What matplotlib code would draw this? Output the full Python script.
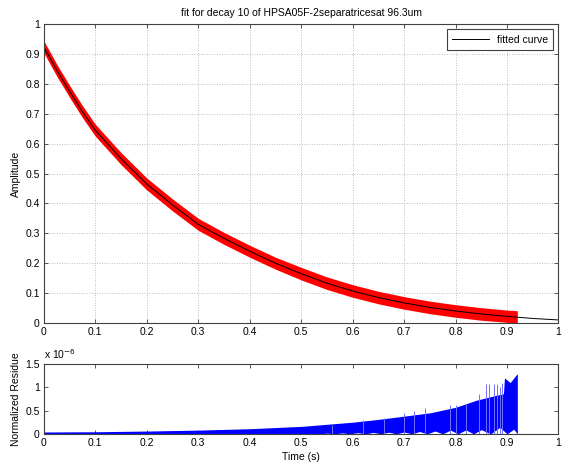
import matplotlib
matplotlib.use('Agg')
import matplotlib.pyplot as plt
import numpy as np

# fitted curve
fit_t = [0, 0.025, 0.05, 0.075, 0.1, 0.15, 0.2, 0.25, 0.3, 0.35, 0.4, 0.45, 0.5,
         0.55, 0.6, 0.65, 0.7, 0.75, 0.8, 0.85, 0.9, 0.95, 1.0]
fit_amp = [0.924, 0.846, 0.775, 0.707, 0.645, 0.550, 0.465, 0.395, 0.330, 0.283, 0.240,
           0.200, 0.165, 0.133, 0.107, 0.085, 0.067, 0.052, 0.040, 0.030, 0.022, 0.015, 0.010]

# measured data band (upper / lower envelope of the red trace)
data_t = [0, 0.025, 0.05, 0.075, 0.1, 0.15, 0.2, 0.25, 0.3, 0.35, 0.4, 0.45, 0.5,
          0.55, 0.6, 0.65, 0.7, 0.75, 0.8, 0.85, 0.9, 0.92]
data_hi = [0.944, 0.866, 0.795, 0.727, 0.665, 0.570, 0.485, 0.415, 0.350, 0.303, 0.260,
           0.220, 0.186, 0.154, 0.128, 0.106, 0.088, 0.073, 0.061, 0.051, 0.043, 0.041]
data_lo = [0.904, 0.826, 0.755, 0.687, 0.625, 0.530, 0.445, 0.375, 0.310, 0.263, 0.220,
           0.180, 0.144, 0.112, 0.086, 0.064, 0.046, 0.031, 0.019, 0.009, 0.002, 0.000]

# residue envelope, units of 1e-6
res_t_hi = [0, 0.1, 0.2, 0.3, 0.4, 0.5, 0.6, 0.65, 0.7, 0.75, 0.8, 0.84, 0.88,
            0.893, 0.895, 0.904, 0.906, 0.919, 0.92]
res_hi = [0.04, 0.045, 0.06, 0.08, 0.11, 0.16, 0.25, 0.31, 0.38, 0.45, 0.57, 0.72, 0.83,
          0.86, 1.20, 1.12, 1.10, 1.28, 1.28]
res_t_lo = [0, 0.51, 0.52, 0.535, 0.55, 0.565, 0.58, 0.595, 0.61, 0.625, 0.64, 0.655,
            0.67, 0.685, 0.70, 0.715, 0.73, 0.745, 0.76, 0.775, 0.79, 0.805, 0.82,
            0.835, 0.85, 0.868, 0.886, 0.90, 0.913, 0.92]
res_lo = [0, 0, 0.01, 0, 0.015, 0, 0.02, 0, 0.025, 0, 0.03, 0,
          0.035, 0, 0.04, 0, 0.05, 0, 0.06, 0, 0.08, 0, 0.085,
          0, 0.09, 0, 0.14, 0, 0.10, 0]
spike_t = [0.56, 0.62, 0.66, 0.70, 0.72, 0.74, 0.79, 0.80, 0.82, 0.845,
           0.86, 0.865, 0.875, 0.88, 0.887, 0.89]
spike_h = [0.20, 0.30, 0.35, 0.45, 0.50, 0.55, 0.62, 0.62, 0.65, 0.85,
           1.08, 1.08, 1.08, 1.08, 1.00, 1.10]

tick_lbl = ['0', '0.1', '0.2', '0.3', '0.4', '0.5', '0.6', '0.7', '0.8', '0.9', '1']

plt.rcParams['font.family'] = ['Liberation Sans', 'DejaVu Sans']
plt.rcParams['font.size'] = 7.5

fig = plt.figure(figsize=(5.63, 4.66), dpi=100)
ax1 = fig.add_axes([0.078, 0.307, 0.914, 0.641])
ax2 = fig.add_axes([0.078, 0.069, 0.914, 0.150])

edge = '#404040'

# top panel
ax1.fill_between(data_t, data_lo, data_hi, color='red', linewidth=0)
ax1.plot(fit_t, fit_amp, color='black', linewidth=0.7, label='fitted curve')
ax1.set_xlim(0, 1)
ax1.set_ylim(0, 1)
ax1.set_xticks(np.arange(0, 1.01, 0.1))
ax1.set_yticks(np.arange(0, 1.01, 0.1))
ax1.set_xticklabels(tick_lbl)
ax1.set_yticklabels(tick_lbl)
ax1.grid(True, linestyle=(0, (1, 2)), color='#a8a8a8', linewidth=0.6)
ax1.set_ylabel('Amplitude', labelpad=3)
ax1.set_title('fit for decay 10 of HPSA05F-2separatricesat 96.3um', fontsize=7.5, pad=6)
leg = ax1.legend(loc='upper right', fancybox=False, framealpha=1, edgecolor=edge,
                 handlelength=3.5, borderpad=0.5, fontsize=7.5)
leg.get_frame().set_linewidth(0.8)

# bottom panel
ax2.fill_between(res_t_hi, 0, res_hi, color='blue', linewidth=0)
ax2.vlines(spike_t, 0, spike_h, color='#7070ff', linewidth=0.7)
ax2.fill_between(res_t_lo, 0, res_lo, color='white', linewidth=0)
ax2.set_xlim(0, 1)
ax2.set_ylim(0, 1.5)
ax2.set_xticks(np.arange(0, 1.01, 0.1))
ax2.set_xticklabels(tick_lbl)
ax2.set_yticks([0, 0.5, 1, 1.5])
ax2.set_yticklabels(['0', '0.5', '1', '1.5'])
ax2.set_xlabel('Time (s)', labelpad=3)
ax2.set_ylabel('Normalized Residue', labelpad=3)
ax2.text(0.0, 1.04, r'x 10$^{-6}$', transform=ax2.transAxes, fontsize=7.5, va='bottom')

for ax in (ax1, ax2):
    ax.tick_params(direction='in', top=True, right=True, length=3, width=0.6,
                   color=edge, pad=3)
    for s in ax.spines.values():
        s.set_color(edge)
        s.set_linewidth(0.8)
    ax.set_axisbelow(True)

fig.savefig('out.png', dpi=100)
